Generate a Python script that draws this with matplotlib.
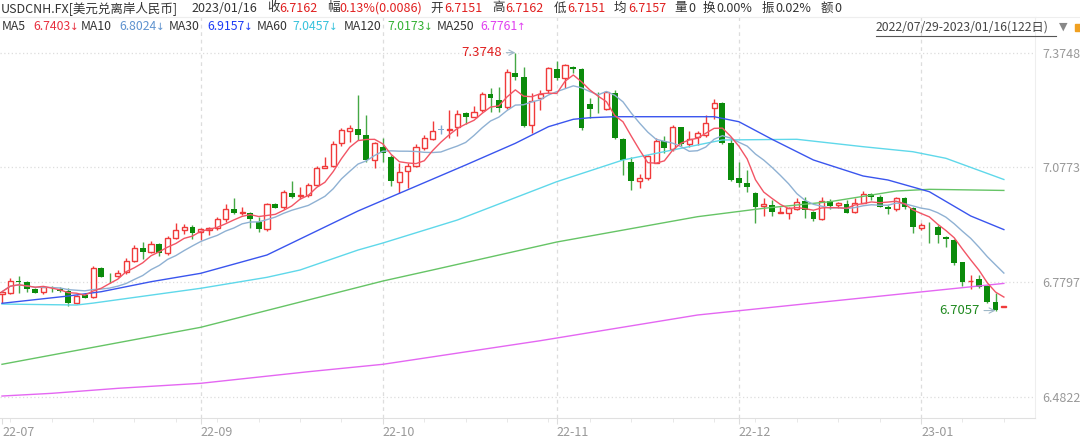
import matplotlib
matplotlib.use('Agg')
import matplotlib.pyplot as plt
import numpy as np
import pandas as pd
from matplotlib.lines import Line2D
from matplotlib.patches import Rectangle

plt.rcParams['font.family'] = ['Noto Sans CJK SC', 'DejaVu Sans']

# --- daily candles USDCNH 2022/07/29 - 2023/01/16 (122 days) ---
opens = [6.7486, 6.7519, 6.7818, 6.7789, 6.7608, 6.7545, 6.7623, 6.7623, 6.7571, 6.7244,
         6.7460, 6.7400, 6.8153, 6.7883, 6.7953, 6.8049, 6.8350, 6.8679, 6.8568, 6.8783,
         6.8542, 6.8931, 6.9146, 6.9232, 6.9087, 6.9146, 6.9190, 6.9424, 6.9683, 6.9580,
         6.9595, 6.9346, 6.9164, 6.9813, 6.9735, 7.0114, 7.0028, 7.0054, 7.0314, 7.0763,
         7.0807, 7.1396, 7.1723, 7.1759, 7.1611, 7.0962, 7.1308, 7.1033, 7.0399, 7.0677,
         7.0807, 7.1266, 7.1500, 7.1754, 7.1746, 7.1826, 7.2190, 7.2086, 7.2260, 7.2667,
         7.2519, 7.2330, 7.3228, 7.3108, 7.1871, 7.2563, 7.2779, 7.3324, 7.3082, 7.3368,
         7.3316, 7.2408, 7.2294, 7.2278, 7.2709, 7.1500, 7.0918, 7.0418, 7.0488, 7.0892,
         7.1463, 7.1240, 7.1811, 7.1378, 7.1551, 7.1611, 7.2304, 7.2449, 7.1396, 7.0488,
         7.0358, 7.0098, 6.9761, 6.9795, 6.9587, 6.9595, 6.9683, 6.9899, 6.9621, 6.9424,
         6.9906, 6.9795, 6.9813, 6.9621, 6.9855, 7.0073, 7.0010, 6.9751, 6.9683, 6.9969,
         6.9725, 6.9190, 6.9258, 6.9232, 6.8972, 6.8887, 6.8308, 6.7823, 6.7875, 6.7693,
         6.7270, 6.7151]
highs = [6.7577, 6.7893, 6.7953, 6.7831, 6.7649, 6.7693, 6.7693, 6.7660, 6.7634, 6.7460,
         6.7504, 6.8212, 6.8178, 6.8023, 6.8108, 6.8412, 6.8757, 6.8843, 6.8869, 6.8801,
         6.8991, 6.9320, 6.9302, 6.9276, 6.9190, 6.9216, 6.9491, 6.9821, 6.9969, 6.9751,
         6.9621, 6.9491, 6.9855, 6.9839, 7.0184, 7.0418, 7.0270, 7.0358, 7.0807, 7.1048,
         7.1455, 7.1801, 7.1871, 7.2649, 7.2130, 7.1437, 7.1526, 7.1092, 7.0892, 7.0892,
         7.1378, 7.1611, 7.1982, 7.1871, 7.2260, 7.2260, 7.2216, 7.2364, 7.2735, 7.2823,
         7.2849, 7.3316, 7.3748, 7.3368, 7.2693, 7.2779, 7.3383, 7.3539, 7.3453, 7.3401,
         7.3350, 7.2563, 7.2735, 7.2735, 7.2779, 7.1533, 7.1048, 7.0599, 7.1092, 7.1526,
         7.1585, 7.1871, 7.1820, 7.1723, 7.1723, 7.2130, 7.2537, 7.2475, 7.1526, 7.0918,
         7.0703, 7.0132, 6.9969, 6.9925, 6.9751, 6.9751, 6.9969, 6.9995, 6.9630, 6.9995,
         6.9943, 6.9881, 6.9925, 6.9969, 7.0158, 7.0114, 7.0054, 6.9795, 6.9995, 6.9995,
         6.9735, 6.9336, 6.9362, 6.9276, 6.8991, 6.8905, 6.8324, 6.7979, 6.7979, 6.7719,
         6.7504, 6.7162]
lows = [6.7260, 6.7486, 6.7519, 6.7545, 6.7504, 6.7486, 6.7545, 6.7545, 6.7182, 6.7226,
        6.7374, 6.7374, 6.7919, 6.7779, 6.7919, 6.8005, 6.8324, 6.8386, 6.8542, 6.8472,
        6.8498, 6.8905, 6.9042, 6.8905, 6.8887, 6.9017, 6.9146, 6.9362, 6.9561, 6.9535,
        6.9190, 6.9102, 6.9128, 6.9709, 6.9683, 6.9977, 6.9943, 7.0010, 7.0288, 7.0747,
        7.0773, 7.1334, 7.1437, 7.1481, 7.0918, 7.0747, 7.0918, 7.0288, 7.0114, 7.0228,
        7.0789, 7.1222, 7.1481, 7.1637, 7.1526, 7.1585, 7.1897, 7.2070, 7.2216, 7.2216,
        7.2216, 7.2278, 7.3038, 7.1826, 7.1671, 7.2260, 7.2693, 7.3038, 7.2823, 7.3212,
        7.1741, 7.2052, 7.2174, 7.2260, 7.1500, 7.0573, 7.0184, 7.0228, 7.0444, 7.0877,
        7.1152, 7.1204, 7.1326, 7.1308, 7.1352, 7.1551, 7.2018, 7.1378, 7.0425, 7.0270,
        7.0140, 6.9320, 6.9510, 6.9510, 6.9580, 6.9424, 6.9665, 6.9465, 6.9388, 6.9406,
        6.9683, 6.9709, 6.9580, 6.9595, 6.9839, 6.9925, 6.9735, 6.9561, 6.9647, 6.9683,
        6.9061, 6.9146, 6.8801, 6.8817, 6.8713, 6.8238, 6.7693, 6.7608, 6.7634, 6.7244,
        6.7057, 6.7151]
closes = [6.7545, 6.7831, 6.7797, 6.7615, 6.7519, 6.7660, 6.7608, 6.7564, 6.7260, 6.7442,
          6.7390, 6.8153, 6.7935, 6.7867, 6.8023, 6.8350, 6.8671, 6.8568, 6.8783, 6.8542,
          6.8946, 6.9146, 6.9232, 6.9076, 6.9164, 6.9190, 6.9424, 6.9683, 6.9580, 6.9621,
          6.9424, 6.9172, 6.9821, 6.9725, 7.0140, 6.9995, 7.0054, 7.0314, 7.0747, 7.0815,
          7.1378, 7.1741, 7.1785, 7.1611, 7.0962, 7.1396, 7.1152, 7.0418, 7.0659, 7.0807,
          7.1308, 7.1526, 7.1723, 7.1754, 7.1759, 7.2148, 7.2086, 7.2216, 7.2667, 7.2563,
          7.2304, 7.3254, 7.3124, 7.1845, 7.2501, 7.2675, 7.3342, 7.3082, 7.3427, 7.3316,
          7.1785, 7.2286, 7.2278, 7.2719, 7.1526, 7.0962, 7.0425, 7.0488, 7.1066, 7.1463,
          7.1266, 7.1811, 7.1378, 7.1507, 7.1671, 7.1915, 7.2449, 7.1411, 7.0444, 7.0374,
          7.0270, 6.9751, 6.9813, 6.9621, 6.9606, 6.9725, 6.9881, 6.9665, 6.9424, 6.9899,
          6.9777, 6.9855, 6.9595, 6.9855, 7.0073, 6.9995, 6.9751, 6.9683, 6.9969, 6.9735,
          6.9216, 6.9276, 6.9242, 6.9017, 6.8913, 6.8282, 6.7805, 6.7836, 6.7675, 6.7286,
          6.7076, 6.7162]

# long averages need history from before the window
ma30_idx = [0, 8, 12, 18, 24, 32, 37, 43, 48, 56, 62, 66, 69, 71, 74, 86, 89, 93, 98, 104, 107, 112, 117, 121]
ma30_val = [6.7245, 6.7434, 6.7546, 6.7805, 6.8023, 6.8498, 6.9017, 6.9640, 7.0099, 7.0833, 7.1396,
            7.1827, 7.2019, 7.2060, 7.2086, 7.2086, 7.1956, 7.1500, 7.0963, 7.0548, 7.0444, 7.0140,
            6.9510, 6.9157]
ma60_idx = [0, 9, 11, 24, 32, 36, 43, 46, 55, 67, 75, 82, 87, 96, 104, 110, 114, 121]
ma60_val = [6.7226, 6.7200, 6.7250, 6.7634, 6.7919, 6.8109, 6.8627, 6.8809, 6.9406, 7.0400, 7.0963,
            7.1266, 7.1482, 7.1500, 7.1308, 7.1178, 7.1007, 7.0457]
ma120_idx = [0, 24, 46, 52, 67, 84, 92, 100, 108, 112, 121]
ma120_val = [6.5662, 6.6622, 6.7823, 6.8109, 6.8835, 6.9492, 6.9710, 6.9881, 7.0158, 7.0202, 7.0173]
ma250_idx = [0, 6, 14, 24, 37, 46, 65, 84, 100, 121]
ma250_val = [6.4839, 6.4909, 6.5039, 6.5169, 6.5470, 6.5662, 6.6274, 6.6941, 6.7297, 6.7761]

month_idx = [0, 24, 46, 67, 89, 111]
month_lbl = ['22-07', '22-09', '22-10', '22-11', '22-12', '23-01']
price_ticks = [7.3748, 7.0773, 6.7797, 6.4822]

RED = '#f03a3a'
GREEN = '#0b8b0b'
C_MA5, C_MA10, C_MA30 = '#f25565', '#8fb1d3', '#3a55ee'
C_MA60, C_MA120, C_MA250 = '#5fd8ea', '#66c466', '#e467f2'

W, H = 1080, 438
fig = plt.figure(figsize=(W / 100, H / 100), dpi=100)
ax = fig.add_axes([0, (H - 418) / H, 1035 / W, (418 - 17) / H])

x = np.arange(len(closes))
o = np.array(opens); c = np.array(closes); hi = np.array(highs); lo = np.array(lows)

# candles
for i in x:
    top, bot = max(o[i], c[i]), min(o[i], c[i])
    hgt = max(top - bot, 0.0007)
    if c[i] > o[i]:
        ax.vlines(i, top, hi[i], color=RED, lw=1, zorder=2)
        ax.vlines(i, lo[i], bot, color=RED, lw=1, zorder=2)
        ax.bar(i, hgt, bottom=bot, width=0.62, facecolor='white', edgecolor=RED, lw=1, zorder=2)
    elif c[i] < o[i]:
        ax.vlines(i, lo[i], hi[i], color='#45a845', lw=1, zorder=2)
        ax.bar(i, hgt, bottom=bot, width=0.7, color=GREEN, lw=0, zorder=2)
    else:
        ax.vlines(i, lo[i], hi[i], color='#7fa7d0', lw=1, zorder=2)
        ax.bar(i, hgt, bottom=bot, width=0.7, color='#7fa7d0', lw=0, zorder=2)

# moving averages
ma5 = pd.Series(closes).rolling(5, min_periods=1).mean()
ma10 = pd.Series(closes).rolling(10, min_periods=1).mean()
ax.plot(ma250_idx, ma250_val, color=C_MA250, lw=1, zorder=3)
ax.plot(ma120_idx, ma120_val, color=C_MA120, lw=1, zorder=3)
ax.plot(ma60_idx, ma60_val, color=C_MA60, lw=1, zorder=3)
ax.plot(ma30_idx, ma30_val, color=C_MA30, lw=1, zorder=3)
ax.plot(x, ma10, color=C_MA10, lw=1, zorder=3)
ax.plot(x, ma5, color=C_MA5, lw=1, zorder=3)

# high / low markers
imax = int(np.argmax(hi)); imin = int(np.argmin(lo))
ax.annotate(f'{hi[imax]:.4f}', xy=(imax, hi[imax]), xytext=(imax - 1.6, hi[imax]),
            ha='right', va='center', color='#e02020', fontsize=9.5,
            arrowprops=dict(arrowstyle='->', color='#9fb8c8', lw=0.8, shrinkA=1, shrinkB=0))
ax.annotate(f'{lo[imin]:.4f}', xy=(imin, lo[imin]), xytext=(imin - 1.9, lo[imin]),
            ha='right', va='center', color='#208a20', fontsize=9.5,
            arrowprops=dict(arrowstyle='->', color='#9fb8c8', lw=0.8, shrinkA=1, shrinkB=0))

ax.set_xlim(-0.24, 124.76)
ax.set_ylim(6.4269, 7.4673)

ax.yaxis.tick_right()
ax.set_yticks(price_ticks)
ax.set_yticklabels([f'{p:.4f}' for p in price_ticks])
ax.tick_params(axis='y', length=0, pad=5, labelsize=9, labelcolor='#999999')
ax.grid(axis='y', color='#dddddd', linestyle=(0, (1, 2)), lw=0.9)
for m in month_idx[1:]:
    ax.axvline(m, color='#dddddd', linestyle=(0, (3, 3)), lw=0.9, zorder=1)

ax.set_xticks(month_idx)
ax.set_xticklabels(month_lbl, ha='left')
ax.set_xticks([i for i in range(1, 122, 5) if i not in month_idx], minor=True)
ax.tick_params(axis='x', which='major', length=4, color='#dddddd', pad=2,
               labelsize=9, labelcolor='#999999')
ax.tick_params(axis='x', which='minor', length=3, color='#e4e4e4')

ax.spines['left'].set_visible(False)
ax.spines['top'].set_color('#eeeeee')
ax.spines['right'].set_color('#eeeeee')
ax.spines['bottom'].set_color('#e0e0e0')


def ftext(px, py, s, color='#333333', size=9, **kw):
    fig.text(px / W, 1 - py / H, s, color=color, fontsize=size, va='center', ha='left', **kw)


# header line 1
VAL = '#e02020'
ftext(1, 8, 'USDCNH.FX[美元兑离岸人民币]')
ftext(191, 8, '2023/01/16')
for lx, lab, vx, val, col in [(267, '收', 279, '6.7162', VAL), (327, '幅', 339, '0.13%(0.0086)', VAL),
                              (430, '开', 444, '6.7151', VAL), (492, '高', 505, '6.7162', VAL),
                              (554, '低', 567, '6.7151', VAL), (614, '均', 628, '6.7157', VAL),
                              (674, '量', 688, '0', '#333333'), (703, '换', 716, '0.00%', '#333333'),
                              (762, '振', 775, '0.02%', '#333333'), (821, '额', 834, '0', '#333333')]:
    ftext(lx, 8, lab)
    ftext(vx, 8, val, col)

# header line 2: MA legend
for lx, lab, vx, val, arrow, col in [(2, 'MA5', 33, '6.7403', '↓', '#e8303f'),
                                     (81, 'MA10', 119, '6.8024', '↓', '#5f93cf'),
                                     (169, 'MA30', 207, '6.9157', '↓', '#1d3cf5'),
                                     (257, 'MA60', 292, '7.0457', '↓', '#37c2dc'),
                                     (344, 'MA120', 387, '7.0173', '↓', '#34b134'),
                                     (437, 'MA250', 480, '6.7761', '↑', '#e040f0')]:
    ftext(lx, 27, lab, size=8.8)
    ftext(vx, 27, val, col, size=8.8)
    ftext(vx + 37, 27, arrow, col, size=7.5, family='DejaVu Sans')

ftext(876, 27, '2022/07/29-2023/01/16(122日)', '#444444', size=8.8)
fig.add_artist(Line2D([876 / W, 1056 / W], [1 - 35.5 / H, 1 - 35.5 / H], color='#555555', lw=0.8))
ftext(1059, 27, '▼', '#888888', size=8, family='DejaVu Sans')
fig.add_artist(Rectangle((1075 / W, 1 - 31 / H), 5 / W, 7 / H, color='#f0a020'))
fig.add_artist(Line2D([0, 1], [1 - 17 / H, 1 - 17 / H], color='#eeeeee', lw=0.8))

fig.savefig('out.png', dpi=100)
